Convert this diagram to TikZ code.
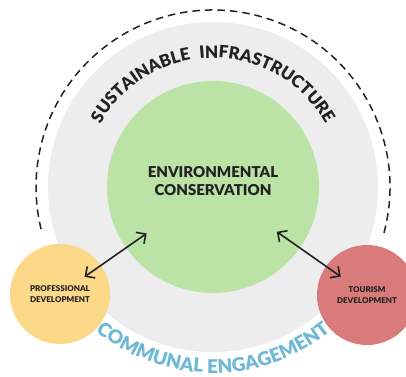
\documentclass[tikz,border=0pt]{standalone}
\usepackage{fontspec}
\setmainfont{Lato}[BoldFont={Lato Black}]
\usetikzlibrary{arrows.meta, decorations.text}

\definecolor{ringgray}{HTML}{EDEDED}
\definecolor{envgreen}{HTML}{BBE3A6}
\definecolor{profyellow}{HTML}{FCD988}
\definecolor{tourred}{HTML}{D97B7B}
\definecolor{engblue}{HTML}{6CB8D5}
\definecolor{textdark}{HTML}{222222}

\begin{document}
\begin{tikzpicture}[x=1pt, y=1pt,
  zone/.style={circle, inner sep=0pt, minimum size=100pt, text=textdark, align=center,
    font=\bfseries\fontsize{8}{11}\selectfont},
  link/.style={{Straight Barb[length=7pt,width=14pt]}-{Straight Barb[length=7pt,width=14pt]},
    line width=1.6pt, textdark}]
  \useasboundingbox (-213,-189) rectangle (193,187);
  \coordinate (O) at (0,0);
  % outer ring and dashed boundary
  \fill[ringgray] (O) circle (165);
  \draw[dash pattern=on 7.5pt off 5pt, line width=1.5pt, textdark] (-15:177) arc (-15:195:177);
  % core
  \node[circle, fill=envgreen, minimum size=212pt] (ec) at (O) {};
  \node[text=textdark, align=center, font=\bfseries\fontsize{15}{18.5}\selectfont] (ec-label) at ([yshift=6pt]ec.center) {ENVIRONMENTAL\\CONSERVATION};
  % ring labels along arcs
  \path[decorate, decoration={text along path, text align=center, text color=textdark,
    text={|\bfseries\fontsize{17}{17}\selectfont|SUSTAINABLE{\hspace{9pt}}INFRASTRUCTURE}}]
    (160:129) arc (160:20:129);
  \path[decorate, decoration={text along path, text align=center, text color=engblue,
    text={|\bfseries\fontsize{19}{19}\selectfont|COMMUNAL ENGAGEMENT}}]
    (221:186) arc (221:319:186);
  % side circles
  \node[zone, fill=profyellow] (pd) at (-153,-107) {PROFESSIONAL\\DEVELOPMENT};
  \node[zone, fill=tourred] (td) at (154,-108) {TOURISM\\DEVELOPMENT};
  \draw[link, shorten <=30pt, shorten >=81pt] (pd.center) -- (ec.center);
  \draw[link, shorten <=78pt, shorten >=32pt] (ec.center) -- (td.center);
\end{tikzpicture}
\end{document}
